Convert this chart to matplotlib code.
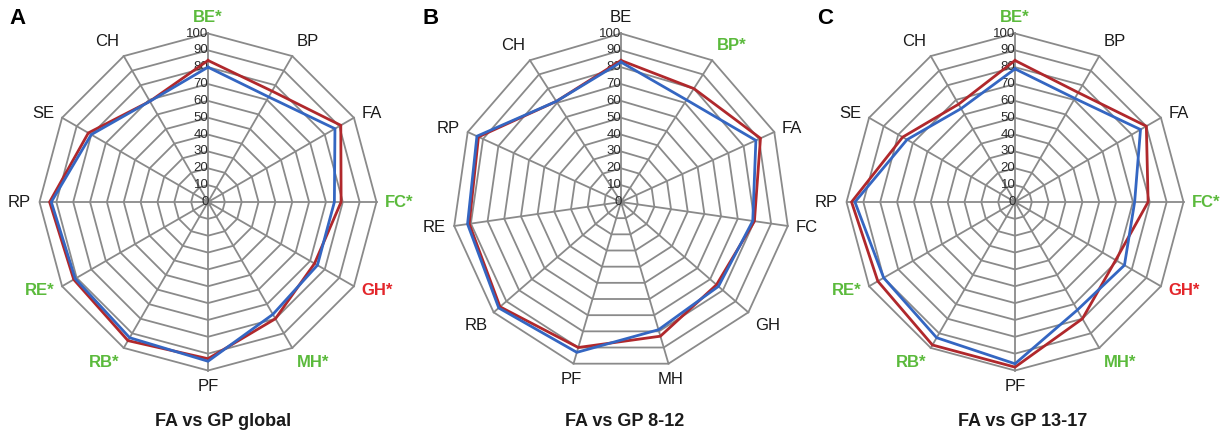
import matplotlib.pyplot as plt
import numpy as np

plt.rcParams['font.family'] = ['Liberation Sans', 'DejaVu Sans']

# Data: axis labels, significance markers ('fa' -> green, 'gp' -> red) and values
labels_12 = ['BE', 'BP', 'FA', 'FC', 'GH', 'MH', 'PF', 'RB', 'RE', 'RP', 'SE', 'CH']
labels_11 = ['BE', 'BP', 'FA', 'FC', 'GH', 'MH', 'PF', 'RB', 'RE', 'RP', 'CH']

sig_global = ['fa', None, None, 'fa', 'gp', 'fa', None, 'fa', 'fa', None, None, None]
sig_8_12 = [None, 'fa', None, None, None, None, None, None, None, None, None]
sig_13_17 = ['fa', None, None, 'fa', 'gp', 'fa', None, 'fa', 'fa', None, None, None]

red_global = [84, 76, 91, 79, 73, 80, 93, 95, 92, 94, 82, 69]
blue_global = [80, 72, 87, 75, 75, 77, 94.5, 93, 91, 93, 80, 69]

red_8_12 = [84, 80, 91, 80, 75, 83, 90, 95, 91, 93, 71]
blue_8_12 = [83, 72, 88, 79, 76.5, 79, 93, 96, 92, 94, 71]

red_13_17 = [84, 75, 90, 79, 69, 80, 98, 98, 94, 97, 77, 67]
blue_13_17 = [79, 71, 86, 71, 75, 74, 96, 93, 90, 95, 74, 64]

ticks = np.arange(0, 101, 10)

panels = [
    ('A', 'FA vs GP global', labels_12, sig_global, red_global, blue_global),
    ('B', 'FA vs GP 8-12', labels_11, sig_8_12, red_8_12, blue_8_12),
    ('C', 'FA vs GP 13-17', labels_12, sig_13_17, red_13_17, blue_13_17),
]

W, H = 1226, 436
centers = [(208, 202), (621, 202), (1015, 202)]
title_dx = [15, 4, 8]
scale = 1.685          # pixels per value unit
half = 200             # half-width of each panel axes in pixels

grid_c = '#8a8a8a'
red_c = '#B0282C'
blue_c = '#3466C2'
green_c = '#5BBA3C'
gp_c = '#E3262B'

fig = plt.figure(figsize=(W / 100, H / 100), dpi=100)

for (letter, title, labels, sig, red, blue), (cx, cy), tdx in zip(panels, centers, title_dx):
    ax = fig.add_axes([(cx - half) / W, 0, 2 * half / W, 1])
    ax.set_xlim(-half / scale, half / scale)
    ax.set_ylim(-(H - cy) / scale, cy / scale)
    ax.axis('off')

    n = len(labels)
    theta = np.arange(n) * 2 * np.pi / n
    sx, sy = np.sin(theta), np.cos(theta)

    # polygon grid
    for r in ticks[1:]:
        ax.plot(np.append(sx, sx[0]) * r, np.append(sy, sy[0]) * r,
                color=grid_c, lw=1.3, zorder=1)
    for x, y in zip(sx, sy):
        ax.plot([0, x * 100], [0, y * 100], color=grid_c, lw=1.3, zorder=1)
    ax.plot(0, 0, 'o', color=grid_c, ms=4, zorder=1)

    # tick labels along the top spoke
    for t in ticks:
        ax.text(0.3, t, str(t), ha='right', va='center', fontsize=9.5,
                color='#2a2a2a', zorder=2)

    # series
    for vals, col in ((red, red_c), (blue, blue_c)):
        v = np.array(vals)
        ax.plot(np.append(sx * v, sx[0] * v[0]), np.append(sy * v, sy[0] * v[0]),
                color=col, lw=2, zorder=3, solid_joinstyle='miter')

    # axis labels
    for lab, s, x, y in zip(labels, sig, sx, sy):
        ha = 'left' if x > 0.3 else ('right' if x < -0.3 else 'center')
        va = 'bottom' if y > 0.6 else ('top' if y < -0.6 else 'center')
        if s is None:
            txt, col, fw = lab, '#1a1a1a', 'normal'
        else:
            txt, col, fw = lab + '*', green_c if s == 'fa' else gp_c, 'bold'
        ax.text(x * 105, y * 105, txt, ha=ha, va=va, fontsize=12,
                color=col, fontweight=fw, clip_on=False)

    ax.text(tdx / scale, -(422 - cy) / scale, title, ha='center', va='center',
            fontsize=13, fontweight='bold', color='#1a1a1a')

    fig.text((cx - 190) / W, 1 - 19 / H, letter, ha='center', va='center',
             fontsize=16, fontweight='bold')

fig.savefig('out.png', dpi=100)
